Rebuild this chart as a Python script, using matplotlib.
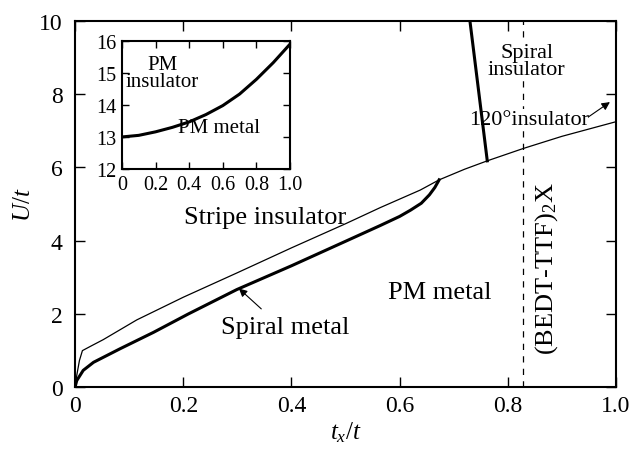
import matplotlib.pyplot as plt

plt.rcParams['font.family'] = ['Liberation Serif', 'DejaVu Serif']
plt.rcParams['mathtext.fontset'] = 'custom'
plt.rcParams['mathtext.rm'] = 'Liberation Serif'
plt.rcParams['mathtext.it'] = 'Liberation Serif:italic'

# upper (thin) boundary: stripe insulator / metal, continues as 120° insulator boundary
thin_x = [0, 0.003, 0.008, 0.0135, 0.03, 0.052, 0.114, 0.2, 0.3, 0.4, 0.5,
          0.564, 0.638, 0.673, 0.72, 0.762, 0.829, 0.9, 1.0]
thin_u = [0, 0.31, 0.72, 0.99, 1.12, 1.29, 1.83, 2.45, 3.12, 3.80, 4.46,
          4.90, 5.38, 5.66, 5.95, 6.18, 6.52, 6.85, 7.25]

# lower (thick) boundary: spiral metal / PM metal
thick_x = [0, 0.003, 0.015, 0.034, 0.083, 0.145, 0.209, 0.299, 0.4, 0.5, 0.564,
           0.6, 0.62, 0.64, 0.655, 0.665, 0.673]
thick_u = [0, 0.17, 0.45, 0.67, 1.04, 1.49, 1.99, 2.66, 3.31, 3.98, 4.41,
           4.66, 4.83, 5.02, 5.25, 5.45, 5.66]

# spiral insulator boundary
spiral_x = [0.730, 0.744, 0.762]
spiral_u = [10.0, 8.33, 6.18]

bedt_x = 0.828

# inset: PM metal / PM insulator
inset_x = [0, 0.1, 0.2, 0.3, 0.4, 0.5, 0.6, 0.7, 0.8, 0.9, 1.0]
inset_u = [13.0, 13.05, 13.16, 13.30, 13.47, 13.70, 13.98, 14.34, 14.80, 15.32, 15.9]

fig = plt.figure(figsize=(6.42, 4.52), dpi=100)
ax = fig.add_axes([0.117, 0.142, 0.8425, 0.809])

ax.plot(thin_x, thin_u, color='k', lw=0.9)
ax.plot(thick_x, thick_u, color='k', lw=2.2)
ax.plot(spiral_x, spiral_u, color='k', lw=2.2)
ax.axvline(bedt_x, color='k', lw=0.9, ls=(0, (5, 5)), zorder=1)

ax.set_xlim(0, 1.0)
ax.set_ylim(0, 10)
ax.set_xticks([0, 0.2, 0.4, 0.6, 0.8, 1.0])
ax.set_xticklabels(['0', '0.2', '0.4', '0.6', '0.8', '1.0'])
ax.set_yticks([0, 2, 4, 6, 8, 10])
ax.tick_params(direction='in', top=True, right=True, length=7, width=1.0,
               labelsize=17)
ax.tick_params(axis='x', pad=6)
ax.tick_params(axis='y', pad=9)
for s in ax.spines.values():
    s.set_linewidth(1.5)
ax.set_xlabel('$t_x/t$', fontsize=18, labelpad=2)
ax.set_ylabel('$U/t$', fontsize=18, labelpad=3)

white = dict(facecolor='white', edgecolor='none', pad=0.5)
ax.text(0.351, 4.64, 'Stripe insulator', fontsize=19, ha='center', va='center')
ax.text(0.675, 2.59, 'PM metal', fontsize=19, ha='center', va='center')
ax.text(0.388, 1.63, 'Spiral metal', fontsize=19, ha='center', va='center')
ax.annotate('', xy=(0.299, 2.74), xytext=(0.348, 2.08),
            arrowprops=dict(arrowstyle='-|>', color='k', lw=0.8, mutation_scale=12))
ax.text(0.835, 8.9, 'Spiral\ninsulator', fontsize=16, ha='center', va='center',
        linespacing=0.85, bbox=white, zorder=1.5)
ax.text(0.840, 7.32, '120°insulator', fontsize=16, ha='center', va='center',
        bbox=white, zorder=1.5)
ax.annotate('', xy=(0.993, 7.83), xytext=(0.945, 7.34),
            arrowprops=dict(arrowstyle='-|>', color='k', lw=0.8, mutation_scale=12))
ax.text(0.872, 3.25, '(BEDT-TTF)$_2$X', fontsize=19, ha='center', va='center',
        rotation=90)

ins = fig.add_axes([0.190, 0.624, 0.2617, 0.2832])
ins.plot(inset_x, inset_u, color='k', lw=2.2)
ins.set_xlim(0, 1.0)
ins.set_ylim(12, 16)
ins.set_xticks([0, 0.2, 0.4, 0.6, 0.8, 1.0])
ins.set_xticklabels(['0', '0.2', '0.4', '0.6', '0.8', '1.0'])
ins.set_yticks([12, 13, 14, 15, 16])
ins.tick_params(direction='in', top=True, right=True, length=5, width=1.0,
                labelsize=14.5, pad=4)
for s in ins.spines.values():
    s.set_linewidth(1.5)
ins.text(0.24, 15.0, 'PM\ninsulator', fontsize=15, ha='center', va='center',
         linespacing=0.85)
ins.text(0.58, 13.3, 'PM metal', fontsize=15, ha='center', va='center')

fig.savefig('out.png', dpi=100)
